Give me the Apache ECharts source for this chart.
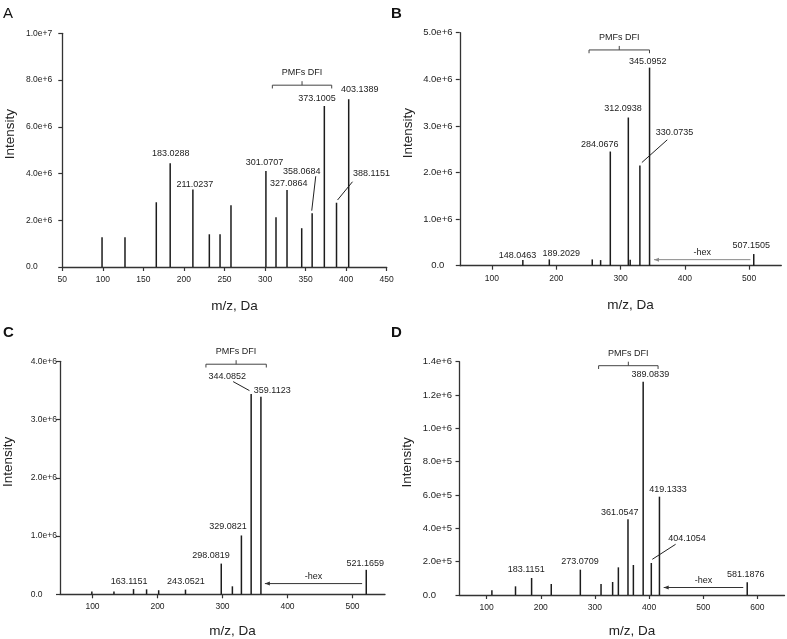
<!DOCTYPE html>
<html><head><meta charset="utf-8">
<script src="https://cdn.jsdelivr.net/npm/echarts@6/dist/echarts.min.js"></script>
<style>html,body{margin:0;padding:0;background:#fff}#c{width:787px;height:639px}</style>
</head><body><div id="c"></div>
<script>
// ---------- DATA ----------
// Panel A
const aMz  = [99, 127.3, 165.9, 183.0288, 211.0237, 231.3, 244.5, 258, 301.0707, 313.5, 327.0864, 345.2, 358.0684, 373.1005, 388.1151, 403.1389];
const aInt = [1.27e6, 1.27e6, 2.77e6, 4.44e6, 3.32e6, 1.40e6, 1.40e6, 2.64e6, 4.11e6, 2.13e6, 3.29e6, 1.66e6, 2.30e6, 6.89e6, 2.75e6, 7.18e6];
const aLbl = ['', '', '', '183.0288', '211.0237', '', '', '', '301.0707', '', '327.0864', '', '358.0684', '373.1005', '388.1151', '403.1389'];
const aBracket = [309, 382.2, 7.78e6];
const aXTicks = [50, 100, 150, 200, 250, 300, 350, 400, 450];

// Panel B
const bMz  = [148.0463, 189.2029, 256, 269, 284.0676, 312.0938, 315, 330.0735, 345.0952, 507.1505];
const bInt = [0.12e6, 0.135e6, 0.135e6, 0.12e6, 2.45e6, 3.18e6, 0.13e6, 2.15e6, 4.25e6, 0.25e6];
const bLbl = ['148.0463', '189.2029', '', '', '284.0676', '312.0938', '', '330.0735', '345.0952', '507.1505'];
const bBracket = [251, 345, 4.63e6];
const bHex = [502, 352, 0.13e6];
const bXTicks = [100, 200, 300, 400, 500];

// Panel C
const cMz  = [99, 133, 163.1151, 183.2, 201.8, 243.0521, 298.0819, 315.2, 329.0821, 344.0852, 359.1123, 521.1659];
const cInt = [0.05e6, 0.05e6, 0.09e6, 0.085e6, 0.07e6, 0.08e6, 0.527e6, 0.137e6, 1.01e6, 3.44e6, 3.39e6, 0.42e6];
const cLbl = ['', '', '163.1151', '', '', '243.0521', '298.0819', '', '329.0821', '344.0852', '359.1123', '521.1659'];
const cBracket = [274.5, 367.4, 3.95e6];
const cHex = [514.8, 365.2, 0.184e6];
const cXTicks = [100, 200, 300, 400, 500];

// Panel D
const dMz  = [109.8, 153.4, 183.1151, 219.4, 273.0709, 311.3, 332.7, 343.3, 361.0547, 371, 389.0839, 404.1054, 419.1333, 581.1876];
const dInt = [0.028e6, 0.052e6, 0.102e6, 0.066e6, 0.152e6, 0.066e6, 0.078e6, 0.166e6, 0.454e6, 0.18e6, 1.28e6, 0.192e6, 0.59e6, 0.076e6];
const dLbl = ['', '', '183.1151', '', '273.0709', '', '', '', '361.0547', '', '389.0839', '404.1054', '419.1333', '581.1876'];
const dBracket = [306.8, 416.6, 1.376e6];
const dHex = [573.8, 427, 0.045e6];
const dXTicks = [100, 200, 300, 400, 500, 600];

// ---------- LAYOUT / STYLE ----------
const FONT = '"Liberation Sans", Arial, Helvetica, sans-serif';
const INK = '#222';
// label offsets (px) from the top of each stick, and leader lines
const labelPos = {
  A: {'183.0288':[0.5,-9.3],'211.0237':[2,-5.3],'301.0707':[-1.5,-8.8],'327.0864':[1.7,-6.3],
      '358.0684':[-10.4,-42],'373.1005':[-7.3,-7.7],'388.1151':[35,-29.4],'403.1389':[11,-9.3]},
  B: {'148.0463':[-5.3,-5],'189.2029':[12,-6],'284.0676':[-10.6,-6.7],'312.0938':[-5.4,-8.7],
      '330.0735':[34.7,-33],'345.0952':[-1.7,-6],'507.1505':[-2.5,-8.5]},
  C: {'163.1151':[-4.4,-7.3],'243.0521':[0.4,-8.3],'298.0819':[-10.3,-8],'329.0821':[-13.3,-8.6],
      '344.0852':[-24,-17.3],'359.1123':[11.3,-6.7],'521.1659':[-0.9,-6.2]},
  D: {'183.1151':[-5.4,-8.7],'273.0709':[-0.3,-8],'361.0547':[-8.3,-6.6],'389.0839':[7.2,-7.4],
      '404.1054':[35.7,-24],'419.1333':[8.6,-6.7],'581.1876':[-1.4,-7.7]}
};
const leaders = {
  A: {'358.0684':[-0.4,-2.6,3.6,-37],'388.1151':[1,-2.7,16,-21]},
  B: {'330.0735':[2,-3,27.4,-25.7]},
  C: {'344.0852':[-18,-12.3,-1.7,-3.3]},
  D: {'404.1054':[1,-3.7,24.3,-18.7]}
};

const panels = [
  {id:'A', mz:aMz, it:aInt, lb:aLbl, br:aBracket, hex:null, xt:aXTicks,
   grid:{left:62.3, top:33.3, width:324.4, height:233.7}, xr:[50,450,50], yr:[0,1e7,2e6],
   ylab:{size:8.5, align:'left', margin:36.3}, xNameGap:32, bold:false, title:{left:3, top:6}, hexColor:'#333'},
  {id:'B', mz:bMz, it:bInt, lb:bLbl, br:bBracket, hex:bHex, xt:bXTicks,
   grid:{left:459.8, top:32.7, width:321.5, height:233}, xr:[50,550,50], yr:[0,5e6,1e6],
   ylab:{size:9.5, align:'center', margin:22}, xNameGap:33, bold:true, title:{left:391, top:6}, hexColor:'#8a8a8a'},
  {id:'C', mz:cMz, it:cInt, lb:cLbl, br:cBracket, hex:cHex, xt:cXTicks,
   grid:{left:60, top:361.3, width:325, height:233}, xr:[50,550,50], yr:[0,4e6,1e6],
   ylab:{size:8.5, align:'left', margin:29.3}, xNameGap:29.5, bold:true, title:{left:3, top:325}, hexColor:'#333'},
  {id:'D', mz:dMz, it:dInt, lb:dLbl, br:dBracket, hex:dHex, xt:dXTicks,
   grid:{left:459.5, top:361.7, width:325, height:233.3}, xr:[50,650,50], yr:[0,1.4e6,2e5],
   ylab:{size:9.5, align:'left', margin:36.7}, xNameGap:29, bold:true, title:{left:391, top:325}, hexColor:'#333'}
];

function txt(x, y, s, size, fill) {
  return {type:'text', x:x, y:y, style:{text:s, fill:fill||INK, fontSize:size||9, fontFamily:FONT, align:'center', verticalAlign:'middle'}};
}
function ln(x1, y1, x2, y2, stroke, w) {
  return {type:'line', shape:{x1:x1, y1:y1, x2:x2, y2:y2}, style:{stroke:stroke||INK, lineWidth:w||1}};
}

const option = {backgroundColor:'#fff', animation:false, title:[], grid:[], xAxis:[], yAxis:[], series:[]};

panels.forEach((p, gi) => {
  option.title.push({text:p.id, left:p.title.left, top:p.title.top, padding:0,
    textStyle:{fontSize:15, fontWeight:p.bold?'bold':'normal', fontFamily:FONT, color:'#111'}});
  option.grid.push(Object.assign({containLabel:false}, p.grid));
  option.xAxis.push({type:'value', gridIndex:gi, min:p.xr[0], max:p.xr[1], interval:p.xr[2],
    name:'m/z, Da', nameLocation:'middle', nameGap:p.xNameGap,
    nameTextStyle:{fontSize:13.5, fontFamily:FONT, color:INK, padding:[0,0,0,20]},
    axisLine:{onZero:false, lineStyle:{color:'#333', width:1.3}},
    axisTick:{show:true, inside:false, length:4, lineStyle:{color:'#333', width:1.2}, customValues:p.xt},
    axisLabel:{fontSize:8.5, fontFamily:FONT, color:INK, margin:8, customValues:p.xt,
      formatter: v => (p.xt.indexOf(v) >= 0 ? String(v) : '')},
    splitLine:{show:false}});
  option.yAxis.push({type:'value', gridIndex:gi, min:p.yr[0], max:p.yr[1], interval:p.yr[2],
    name:'Intensity', nameLocation:'middle', nameGap:45, nameRotate:90,
    nameTextStyle:{fontSize:13.5, fontFamily:FONT, color:INK, padding:[0,0,0,32]},
    axisLine:{show:true, onZero:false, lineStyle:{color:'#333', width:1.3}},
    axisTick:{show:true, inside:false, length:4, lineStyle:{color:'#333', width:1.2}},
    axisLabel:{fontSize:p.ylab.size, fontFamily:FONT, color:INK, align:p.ylab.align, margin:p.ylab.margin,
      formatter: v => (v === 0 ? '0.0' : v.toExponential(1))},
    splitLine:{show:false}});

  const lp = labelPos[p.id], ld = leaders[p.id];
  // sticks with their labels
  option.series.push({
    type:'custom', xAxisIndex:gi, yAxisIndex:gi, clip:false,
    data:p.mz.map((m, i) => [m, p.it[i], i]),
    renderItem:(params, api) => {
      const i = api.value(2);
      const p0 = api.coord([api.value(0), 0]);
      const p1 = api.coord([api.value(0), api.value(1)]);
      const ch = [ln(p0[0], p0[1], p1[0], p1[1], '#1c1c1c', 1.5)];
      const t = p.lb[i];
      if (t) {
        const off = lp[t] || [0, -8];
        ch.push(txt(p1[0] + off[0], p1[1] + off[1], t, 9));
        const l = ld[t];
        if (l) ch.push(ln(p1[0] + l[0], p1[1] + l[1], p1[0] + l[2], p1[1] + l[3], INK, 1));
      }
      return {type:'group', children:ch};
    }
  });
  // PMFs DFI bracket
  option.series.push({
    type:'custom', xAxisIndex:gi, yAxisIndex:gi, clip:false, silent:true,
    data:[p.br],
    renderItem:(params, api) => {
      const a = api.coord([api.value(0), api.value(2)]);
      const b = api.coord([api.value(1), api.value(2)]);
      const mx = (a[0] + b[0]) / 2, y = a[1];
      return {type:'group', children:[
        ln(a[0], y, b[0], y, '#444', 1),
        ln(a[0], y, a[0], y + 3.3, '#444', 1),
        ln(b[0], y, b[0], y + 3.3, '#444', 1),
        ln(mx, y, mx, y - 4, '#444', 1),
        txt(mx, y - 12.5, 'PMFs DFI', 9)
      ]};
    }
  });
  // -hex arrow
  if (p.hex) {
    option.series.push({
      type:'custom', xAxisIndex:gi, yAxisIndex:gi, clip:false, silent:true,
      data:[p.hex],
      renderItem:(params, api) => {
        const a = api.coord([api.value(0), api.value(2)]);
        const b = api.coord([api.value(1), api.value(2)]);
        const y = a[1], c = p.hexColor;
        return {type:'group', children:[
          ln(a[0], y, b[0], y, c, 1),
          {type:'polygon', shape:{points:[[b[0], y], [b[0] + 5, y - 2], [b[0] + 5, y + 2]]}, style:{fill:c}},
          txt((a[0] + b[0]) / 2, y - 7, '-hex', 9)
        ]};
      }
    });
  }
});

const chart = echarts.init(document.getElementById('c'), null, {renderer:'canvas'});
chart.setOption(option);
</script>
</body></html>
